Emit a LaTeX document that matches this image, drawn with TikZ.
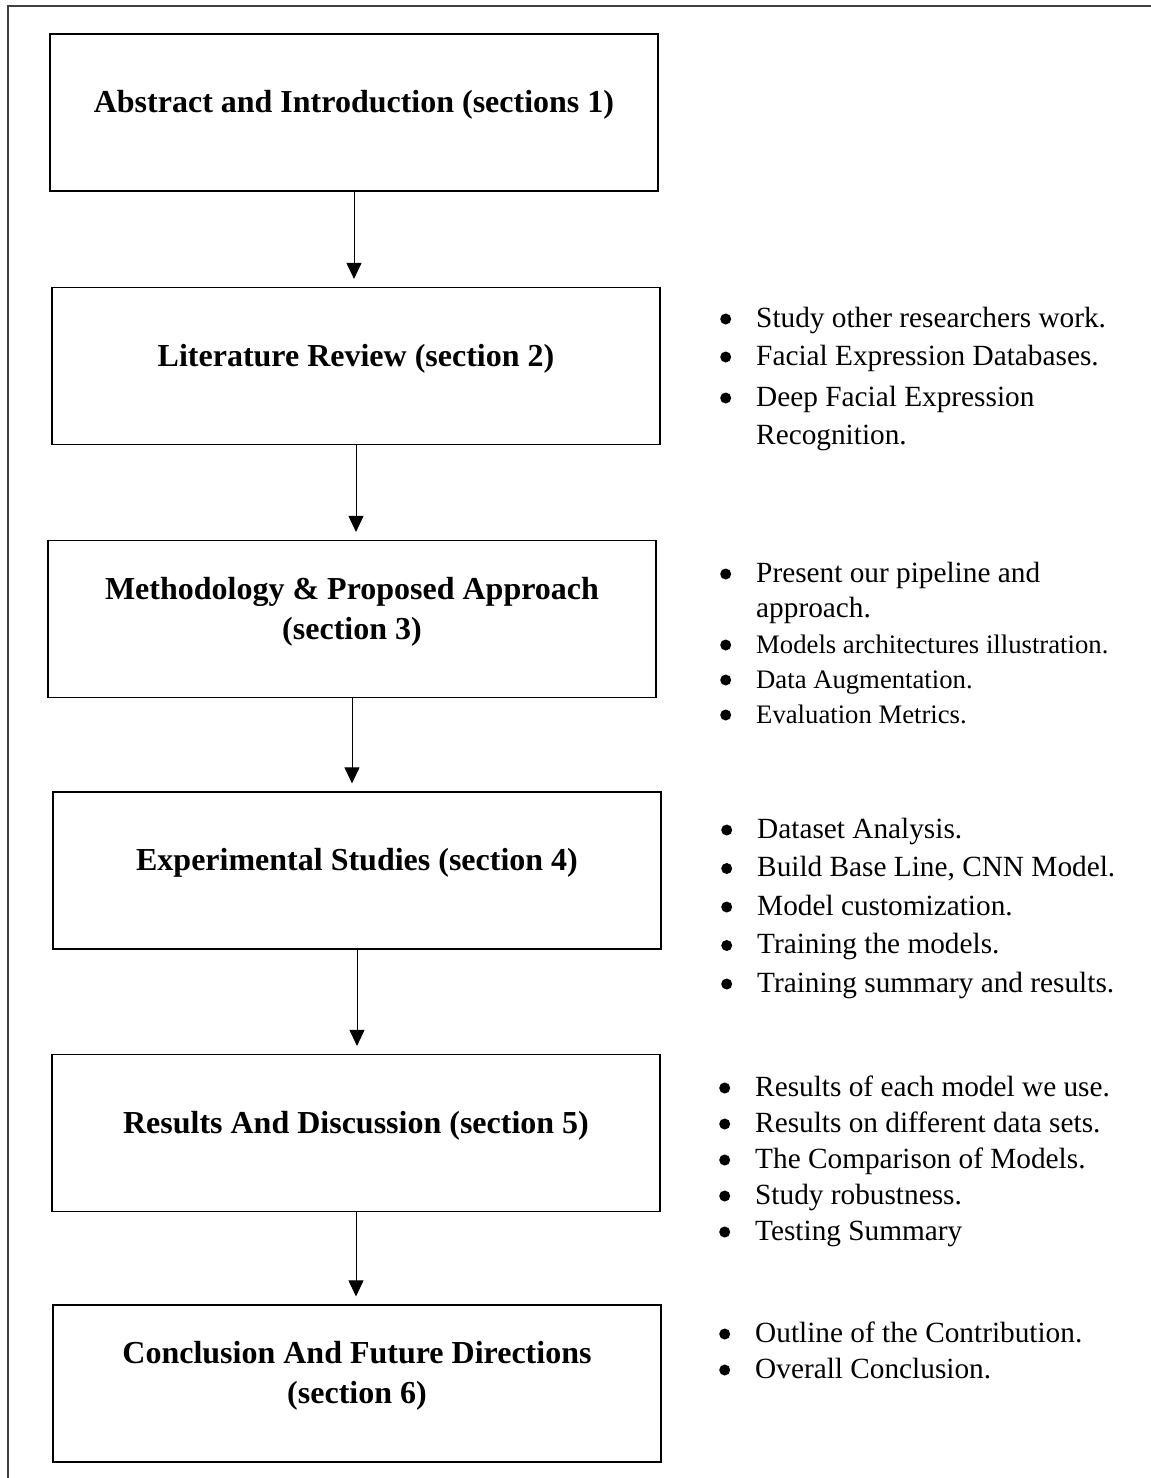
\documentclass[tikz,border=0pt]{standalone}
\usepackage{fontspec}
\setmainfont{Liberation Serif}
\usetikzlibrary{arrows.meta,positioning}
\newcommand{\blt}{\tikz[baseline=-8pt]\fill (0,0) circle (5.5pt);}
\newcommand{\smalltxt}{\fontsize{26.7}{36}\selectfont}
\newcommand{\boxtext}[1]{\begin{tabular}{@{}c@{}}#1\end{tabular}}

\begin{document}
\begin{tikzpicture}[x=1pt, y=-1pt,
  box/.style={draw, line width=1.2pt, minimum width=608pt, minimum height=157pt,
    inner sep=0pt, font=\fontsize{32}{40}\selectfont\bfseries,
    text height=20pt, text depth=23pt},
  notes/.style={anchor=base west, inner sep=0pt, font=\fontsize{29.3}{38}\selectfont},
  arr/.style={-{Triangle[length=16pt, width=15pt]}, line width=1pt, shorten >=8pt}]
\useasboundingbox (0,0) rectangle (1151,1478);
\draw[line width=2pt, black!75] (8,1478) -- (8,6) -- (1151,6);
% section boxes
\node[box] (intro) at (354,112.5) {\boxtext{Abstract and Introduction (sections 1)}};
\node[box] (lit) at (356,366) {\boxtext{Literature Review (section 2)}};
\node[box] (meth) at (352,619) {\boxtext{Methodology \& Proposed Approach\\(section 3)}};
\node[box] (exp) at (357,870.5) {\boxtext{Experimental Studies (section 4)}};
\node[box] (res) at (356,1133) {\boxtext{Results And Discussion (section 5)}};
\node[box] (conc) at (357,1383.5) {\boxtext{Conclusion And Future Directions\\(section 6)}};
\foreach \a/\b in {intro/lit, lit/meth, meth/exp, exp/res, res/conc}
  \draw[arr] (\a.south) -- (\a.south |- \b.north);
% notes on the right
\node[notes] (litnotes) at (720,327) {\begin{tabular}[t]{@{}p{36pt}@{}l@{}}
  \blt & Study other researchers work.\\
  \blt & Facial Expression Databases.\\[3pt]
  \blt & Deep Facial Expression\\
       & Recognition.
\end{tabular}};
\node[notes, font=\fontsize{29.3}{35}\selectfont] (methnotes) at (720,582) {\begin{tabular}[t]{@{}p{36pt}@{}l@{}}
  \blt & Present our pipeline and\\
       & approach.\\[1pt]
  \blt & \smalltxt Models architectures illustration.\\
  \blt & \smalltxt Data Augmentation.\\
  \blt & \smalltxt Evaluation Metrics.
\end{tabular}};
\node[notes, font=\fontsize{29.3}{38.5}\selectfont] (expnotes) at (721,838) {\begin{tabular}[t]{@{}p{36pt}@{}l@{}}
  \blt & Dataset Analysis.\\
  \blt & Build Base Line, CNN Model.\\
  \blt & Model customization.\\
  \blt & Training the models.\\
  \blt & Training summary and results.
\end{tabular}};
\node[notes, font=\fontsize{29.3}{36}\selectfont] (resnotes) at (719,1096) {\begin{tabular}[t]{@{}p{36pt}@{}l@{}}
  \blt & Results of each model we use.\\
  \blt & Results on different data sets.\\
  \blt & The Comparison of Models.\\
  \blt & Study robustness.\\
  \blt & Testing Summary
\end{tabular}};
\node[notes, font=\fontsize{29.3}{36}\selectfont] (concnotes) at (719,1342) {\begin{tabular}[t]{@{}p{36pt}@{}l@{}}
  \blt & Outline of the Contribution.\\
  \blt & Overall Conclusion.
\end{tabular}};
\end{tikzpicture}
\end{document}
